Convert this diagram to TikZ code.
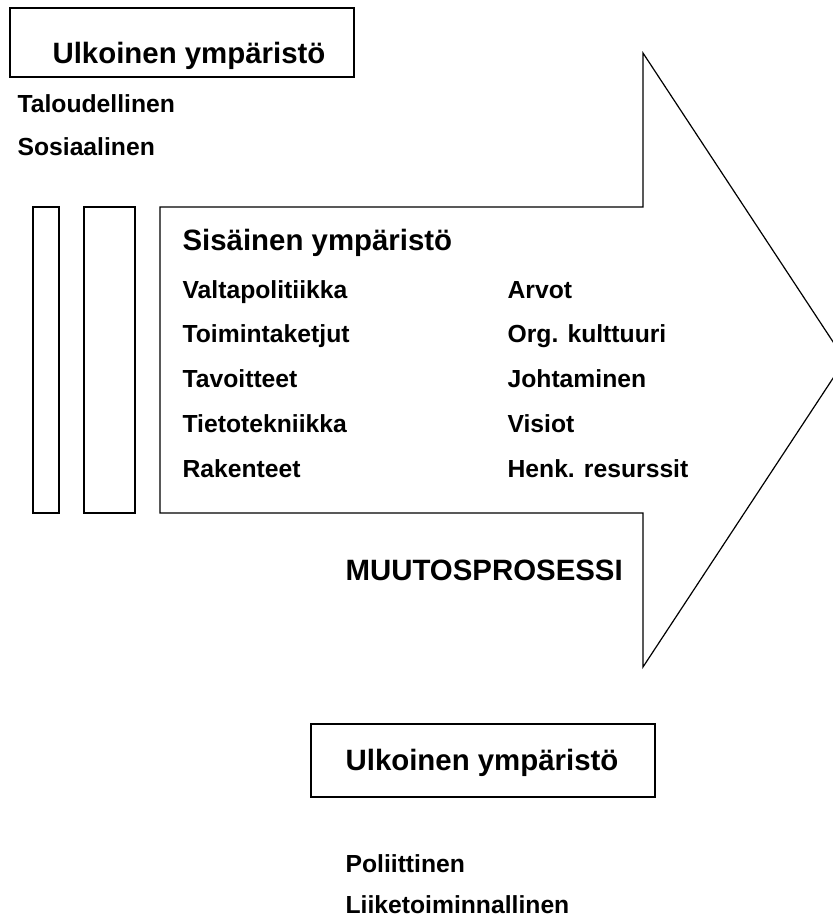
\documentclass[tikz,border=0pt]{standalone}
\usepackage{fontspec}
\setmainfont{Liberation Sans}
\newcommand{\isot}  {\fontsize{14.7}{17}\selectfont\bfseries}
\newcommand{\pienet}{\fontsize{12.35}{15}\selectfont\bfseries}

\begin{document}
\begin{tikzpicture}[x=0.5pt,y=-0.5pt,line width=0.6pt,
   otsikko/.style={anchor=base west,inner sep=0pt,font=\isot},
   kohta/.style={anchor=base west,inner sep=0pt,font=\pienet}]
   \useasboundingbox (0,0) rectangle (833,918);
   \clip (0,0) rectangle (833,918);
   % ulkoinen ympäristö, ylhäällä
   \draw (10,8) rectangle (354,77);
   \node[otsikko] (ulko1) at (52,63) {Ulkoinen ympäristö};
   \node[kohta] (talous) at (17,112) {Taloudellinen};
   \node[kohta] (sosiaali) at (17,155) {Sosiaalinen};
   % muutosnuoli
   \draw (33,207) rectangle (59,513);
   \draw (84,207) rectangle (135,513);
   \draw (160,207) -- (643,207) -- (643,53) -- (845,360)
      -- (643,667) -- (643,513) -- (160,513) -- cycle;
   \node[otsikko] (sisa) at (182,250) {Sisäinen ympäristö};
   \foreach \nimi [count=\i] in {Valtapolitiikka,Toimintaketjut,Tavoitteet,Tietotekniikka,Rakenteet}
      \node[kohta] (vas\i) at (182,{298+44.8*(\i-1)}) {\nimi};
   \foreach \nimi [count=\i] in {Arvot,Org. kulttuuri,Johtaminen,Visiot,Henk. resurssit}
      \node[kohta] (oik\i) at (507,{298+44.8*(\i-1)}) {\nimi};
   \node[otsikko] (muutos) at (345,580) {MUUTOSPROSESSI};
   % ulkoinen ympäristö, alhaalla
   \draw (311,724) rectangle (655,797);
   \node[otsikko] (ulko2) at (345,770) {Ulkoinen ympäristö};
   \node[kohta] (poli) at (345,872) {Poliittinen};
   \node[kohta] (liike) at (345,913) {Liiketoiminnallinen};
\end{tikzpicture}
\end{document}
